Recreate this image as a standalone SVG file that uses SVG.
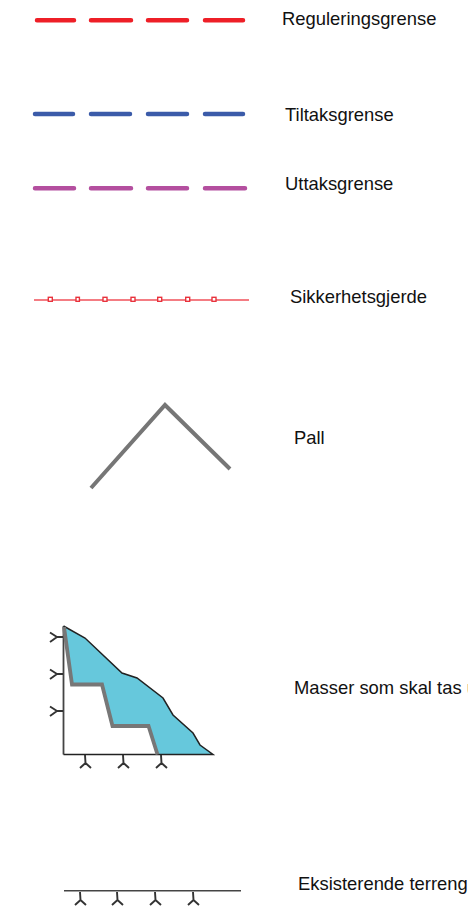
<svg xmlns="http://www.w3.org/2000/svg" width="468" height="908" viewBox="0 0 468 908">
<defs>
<style>
text{font-family:"Liberation Sans",Arial,sans-serif;font-size:18.4px;fill:#111}
.dash{fill:none;stroke-width:4.5;stroke-linecap:round}
.tick{fill:none;stroke:#333;stroke-width:1.9}
.post{fill:#fff;stroke:#e8323c;stroke-width:1.4}
</style>
<path id="down" class="tick" d="M0 0L0.500 8M0.500 8L-5 13M0.500 8L6 13"/>
<path id="left" class="tick" d="M0 0H-6M-6 0L-13 -4.500M-6 0L-13 5"/>
</defs>
<rect width="468" height="908" fill="#fff"/>
<g id="connectors">
<g id="reguleringsgrense-line" class="dash" stroke="#ee1f27"><path d="M37 20.300H74M91 20.300H131M148 20.300H187M205 20.300H243"/></g>
<g id="tiltaksgrense-line" class="dash" stroke="#3b5ba9"><path d="M35 114H73M91 114H130M148 114H187M205 114H243"/></g>
<g id="uttaksgrense-line" class="dash" stroke="#b44f9f"><path d="M35 188.300H74M91 188.300H131M148 188.300H187M205 188.300H245"/></g>
</g>
<g id="reguleringsgrense"><text x="282" y="25">Reguleringsgrense</text></g>
<g id="tiltaksgrense"><text x="285" y="121">Tiltaksgrense</text></g>
<g id="uttaksgrense"><text x="285" y="190">Uttaksgrense</text></g>
<g id="sikkerhetsgjerde">
<path d="M34 300H249" stroke="#f0505a" stroke-width="1.300" fill="none"/>
<rect class="post" x="48.300" y="297.300" width="4" height="4"/>
<rect class="post" x="76" y="297.300" width="3.400" height="4"/>
<rect class="post" x="103" y="297.300" width="4" height="4"/>
<rect class="post" x="131" y="297.300" width="4" height="4"/>
<rect class="post" x="157.700" y="297.300" width="4" height="4"/>
<rect class="post" x="185.700" y="297.300" width="4" height="4"/>
<rect class="post" x="212" y="297.300" width="4" height="4"/>
<text x="290" y="303">Sikkerhetsgjerde</text>
</g>
<g id="pall">
<path d="M91 488L165 405L230 469" fill="none" stroke="#767676" stroke-width="4"/>
<text x="294" y="444">Pall</text>
</g>
<g id="masser">
<path d="M63.500 754.500V626" fill="none" stroke="#444" stroke-width="1.800"/>
<path d="M63.500 626L72 684H102L112 726H148L157 754.500H213L200 745L193 733L173 715L163 698L137 678L122 673L85 638Z" fill="#66c8dc"/>
<path d="M63.500 754.500H213L200 745L193 733L173 715L163 698L137 678L122 673L85 638L63.500 626" fill="none" stroke="#222" stroke-width="1.500"/>
<path d="M64 627L72 684.500H102L112.500 726H148.500L157.500 754.500" fill="none" stroke="#777" stroke-width="3.800"/>
<use href="#left" x="63" y="637"/>
<use href="#left" x="63" y="674"/>
<use href="#left" x="63" y="711"/>
<use href="#down" x="85" y="755"/>
<use href="#down" x="123" y="755"/>
<use href="#down" x="161" y="755"/>
<text x="294" y="694">Masser som skal tas ut</text>
</g>
<g id="eksisterende-terreng">
<path d="M64 890.800H241" fill="none" stroke="#444" stroke-width="1.500"/>
<use href="#down" x="80" y="892"/>
<use href="#down" x="117" y="892"/>
<use href="#down" x="155" y="892"/>
<use href="#down" x="193" y="892"/>
<text x="298" y="890">Eksisterende terreng</text>
</g>
</svg>
